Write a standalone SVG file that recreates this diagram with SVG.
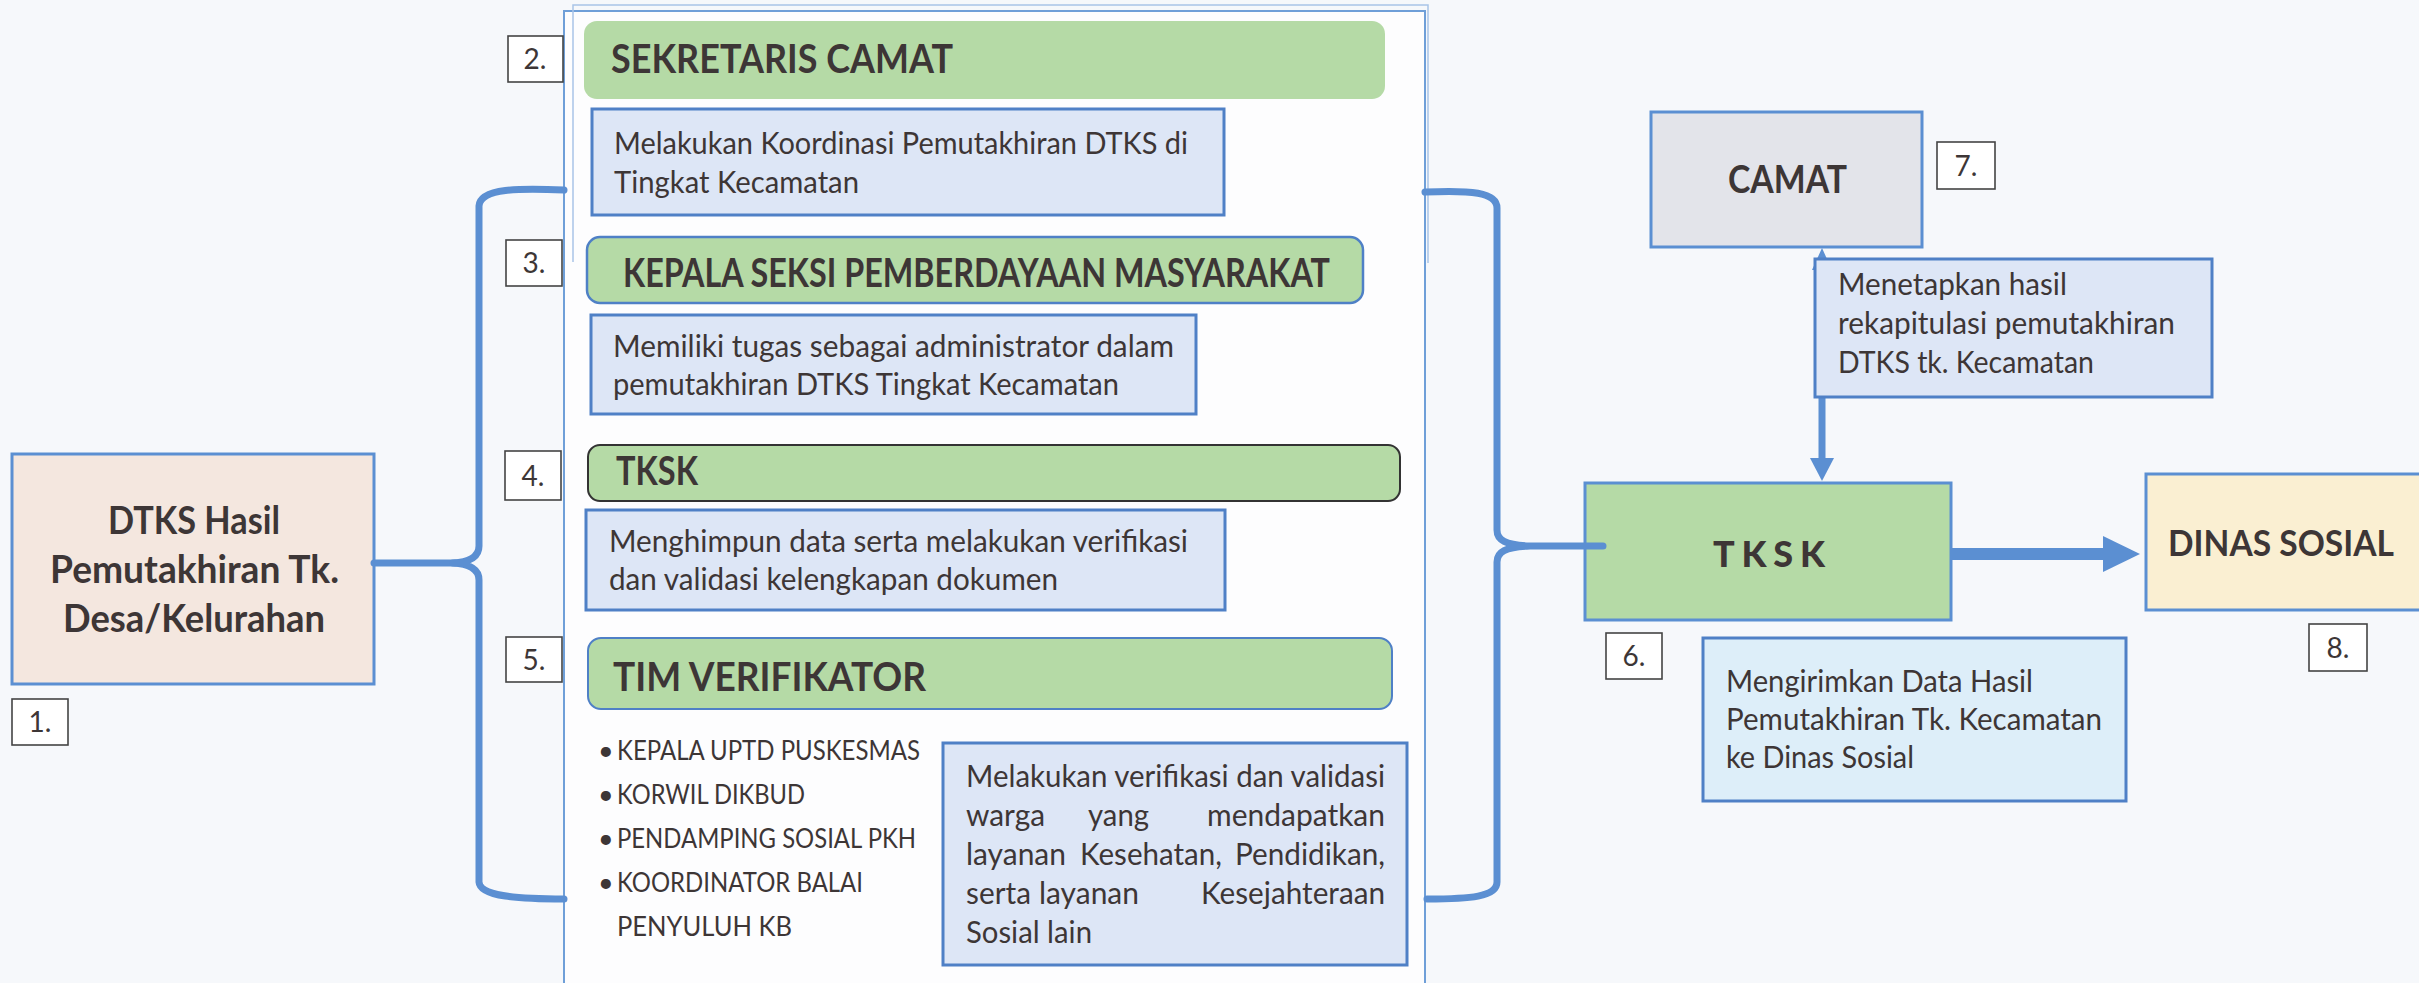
<svg xmlns="http://www.w3.org/2000/svg" width="2419" height="983" viewBox="0 0 2419 983">
<defs>
<style>
text{font-family:Lato,"Open Sans","Liberation Sans",sans-serif;fill:#3d3636}
.num{font-size:28px;text-anchor:middle}
.numbox{fill:#ffffff;stroke:#444;stroke-width:1.6}
.head{font-size:41px;font-weight:700}
.desc{font-size:30px}
.descbox{fill:#dde6f6;stroke:#4f80c6;stroke-width:3}
.green{fill:#b5daa6}
.big{font-weight:700}
.brace{fill:none;stroke:#5b8fd2;stroke-width:7;stroke-linecap:round;stroke-linejoin:round}
.blue{fill:#5b8fd2}
.bul{font-size:27px}
</style>
</defs>
<rect x="0" y="0" width="2419" height="983" fill="#f6f8fb"/>

<g id="panel">
<rect x="564" y="11" width="861" height="990" fill="#fdfdfe" stroke="#6f9fd8" stroke-width="2"/>
<path d="M573 262 V5 H1428 V263" fill="none" stroke="#a9c4e8" stroke-width="1.5"/>
</g>

<g id="n1">
<rect x="12" y="454" width="362" height="230" fill="#f4e7df" stroke="#5b8fd2" stroke-width="3"/>
<text class="big" x="108" y="534" font-size="39" textLength="172" lengthAdjust="spacingAndGlyphs">DTKS Hasil</text>
<text class="big" x="50" y="583" font-size="39" textLength="289" lengthAdjust="spacingAndGlyphs">Pemutakhiran Tk.</text>
<text class="big" x="63" y="632" font-size="39" textLength="262" lengthAdjust="spacingAndGlyphs">Desa/Kelurahan</text>
<rect class="numbox" x="12" y="699" width="56" height="46"/>
<text class="num" x="40" y="732">1.</text>
</g>

<g id="n2">
<rect class="numbox" x="508" y="36" width="55" height="46"/>
<text class="num" x="535" y="69">2.</text>
<rect class="green" x="584" y="21" width="801" height="78" rx="13"/>
<text class="head" x="611" y="73" textLength="342" lengthAdjust="spacingAndGlyphs">SEKRETARIS CAMAT</text>
<rect class="descbox" x="592" y="109" width="632" height="106"/>
<text class="desc" x="614" y="154" textLength="574" lengthAdjust="spacingAndGlyphs">Melakukan Koordinasi Pemutakhiran DTKS di</text>
<text class="desc" x="614" y="193" textLength="245" lengthAdjust="spacingAndGlyphs">Tingkat Kecamatan</text>
</g>

<g id="n3">
<rect class="numbox" x="506" y="240" width="56" height="46"/>
<text class="num" x="534" y="273">3.</text>
<rect class="green" x="587" y="237" width="776" height="66" rx="13" stroke="#4f80c6" stroke-width="2.5"/>
<text class="head" x="623" y="287" font-size="36" textLength="707" lengthAdjust="spacingAndGlyphs">KEPALA SEKSI PEMBERDAYAAN MASYARAKAT</text>
<rect class="descbox" x="591" y="315" width="605" height="99"/>
<text class="desc" x="613" y="357" textLength="561" lengthAdjust="spacingAndGlyphs">Memiliki tugas sebagai administrator dalam</text>
<text class="desc" x="613" y="395" textLength="506" lengthAdjust="spacingAndGlyphs">pemutakhiran DTKS Tingkat Kecamatan</text>
</g>

<g id="n4">
<rect class="numbox" x="505" y="451" width="56" height="49"/>
<text class="num" x="533" y="486">4.</text>
<rect class="green" x="588" y="445" width="812" height="56" rx="12" stroke="#333" stroke-width="2"/>
<text class="head" x="616" y="485" textLength="82" lengthAdjust="spacingAndGlyphs">TKSK</text>
<rect class="descbox" x="586" y="510" width="639" height="100"/>
<text class="desc" x="609" y="552" textLength="579" lengthAdjust="spacingAndGlyphs">Menghimpun data serta melakukan verifikasi</text>
<text class="desc" x="609" y="590" textLength="449" lengthAdjust="spacingAndGlyphs">dan validasi kelengkapan dokumen</text>
</g>

<g id="n5">
<rect class="numbox" x="506" y="637" width="56" height="45"/>
<text class="num" x="534" y="670">5.</text>
<rect class="green" x="588" y="638" width="804" height="71" rx="13" stroke="#4f80c6" stroke-width="2"/>
<text class="head" x="613" y="691" textLength="313" lengthAdjust="spacingAndGlyphs">TIM VERIFIKATOR</text>
<text class="bul" x="598" y="760">•</text><text class="bul" x="617" y="760" textLength="303" lengthAdjust="spacingAndGlyphs">KEPALA UPTD PUSKESMAS</text>
<text class="bul" x="598" y="804">•</text><text class="bul" x="617" y="804" textLength="188" lengthAdjust="spacingAndGlyphs">KORWIL DIKBUD</text>
<text class="bul" x="598" y="848">•</text><text class="bul" x="617" y="848" textLength="299" lengthAdjust="spacingAndGlyphs">PENDAMPING SOSIAL PKH</text>
<text class="bul" x="598" y="892">•</text><text class="bul" x="617" y="892" textLength="246" lengthAdjust="spacingAndGlyphs">KOORDINATOR BALAI</text>
<text class="bul" x="617" y="936" textLength="175" lengthAdjust="spacingAndGlyphs">PENYULUH KB</text>
<rect class="descbox" x="943" y="743" width="464" height="222"/>
<text class="desc" x="966" y="787" textLength="419" lengthAdjust="spacingAndGlyphs">Melakukan verifikasi dan validasi</text>
<text class="desc" x="966" y="826" textLength="79" lengthAdjust="spacingAndGlyphs">warga</text><text class="desc" x="1088" y="826" textLength="61" lengthAdjust="spacingAndGlyphs">yang</text><text class="desc" x="1207" y="826" textLength="178" lengthAdjust="spacingAndGlyphs">mendapatkan</text>
<text class="desc" x="966" y="865" textLength="100" lengthAdjust="spacingAndGlyphs">layanan</text><text class="desc" x="1080" y="865" textLength="142" lengthAdjust="spacingAndGlyphs">Kesehatan,</text><text class="desc" x="1235" y="865" textLength="150" lengthAdjust="spacingAndGlyphs">Pendidikan,</text>
<text class="desc" x="966" y="904" textLength="65" lengthAdjust="spacingAndGlyphs">serta</text><text class="desc" x="1039" y="904" textLength="100" lengthAdjust="spacingAndGlyphs">layanan</text><text class="desc" x="1201" y="904" textLength="184" lengthAdjust="spacingAndGlyphs">Kesejahteraan</text>
<text class="desc" x="966" y="943" textLength="126" lengthAdjust="spacingAndGlyphs">Sosial lain</text>
</g>

<g id="n6">
<rect x="1585" y="483" width="366" height="137" fill="#b5daa6" stroke="#5b8fd2" stroke-width="3"/>
<text x="1713" y="567" font-size="36" font-weight="900" textLength="112" lengthAdjust="spacing">TKSK</text>
<rect class="numbox" x="1606" y="633" width="56" height="46"/>
<text class="num" x="1634" y="666">6.</text>
<rect x="1703" y="638" width="423" height="163" fill="#ddeef9" stroke="#4f80c6" stroke-width="3"/>
<text class="desc" x="1726" y="692" textLength="307" lengthAdjust="spacingAndGlyphs">Mengirimkan Data Hasil</text>
<text class="desc" x="1726" y="730" textLength="376" lengthAdjust="spacingAndGlyphs">Pemutakhiran Tk. Kecamatan</text>
<text class="desc" x="1726" y="768" textLength="188" lengthAdjust="spacingAndGlyphs">ke Dinas Sosial</text>
</g>

<g id="n7">
<rect x="1651" y="112" width="271" height="135" fill="#e3e4ea" stroke="#5b8fd2" stroke-width="3"/>
<text class="big" x="1728" y="193" font-size="38" textLength="119" lengthAdjust="spacingAndGlyphs">CAMAT</text>
<rect class="numbox" x="1937" y="142" width="58" height="47"/>
<text class="num" x="1966" y="176">7.</text>
</g>

<g id="n8">
<rect x="2146" y="474" width="273" height="136" fill="#faefd2"/>
<path d="M2419 474 H2146 V610 H2419" fill="none" stroke="#5b8fd2" stroke-width="3"/>
<text class="big" x="2168" y="556" font-size="36" textLength="226" lengthAdjust="spacingAndGlyphs">DINAS SOSIAL</text>
<rect class="numbox" x="2309" y="624" width="58" height="47"/>
<text class="num" x="2338" y="658">8.</text>
</g>

<g id="connectors">
<path class="brace" d="M374 563 H455"/>
<path class="brace" d="M564 190 C520 188 480 188 479 206 L479 546 C479 557 470 562 453 563 C470 564 479 569 479 580 L479 882 C480 897 520 899 564 899"/>
<path class="brace" d="M1425 192 C1470 190 1497 192 1497 208 L1497 530 C1497 540 1505 545 1530 546 L1603 546 M1530 546 C1505 547 1497 552 1497 562 L1497 882 C1497 897 1470 899 1427 899"/>
<path d="M1822 264 V460" stroke="#5b8fd2" stroke-width="7" fill="none"/>
<polygon class="blue" points="1812,270 1822,248 1832,270"/>
<polygon class="blue" points="1810,458 1834,458 1822,481"/>
<path d="M1951 554 H2105" stroke="#5b8fd2" stroke-width="12" fill="none"/>
<polygon class="blue" points="2103,536 2140,554 2103,572"/>
</g>

<g id="n7desc">
<rect class="descbox" x="1815" y="259" width="397" height="138"/>
<text class="desc" x="1838" y="295" textLength="229" lengthAdjust="spacingAndGlyphs">Menetapkan hasil</text>
<text class="desc" x="1838" y="334" textLength="337" lengthAdjust="spacingAndGlyphs">rekapitulasi pemutakhiran</text>
<text class="desc" x="1838" y="373" textLength="256" lengthAdjust="spacingAndGlyphs">DTKS tk. Kecamatan</text>
</g>
</svg>
